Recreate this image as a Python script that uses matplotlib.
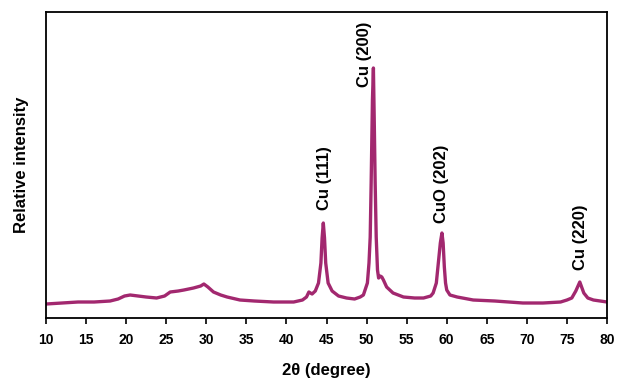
#!/usr/bin/env python3
import matplotlib
matplotlib.use("Agg")
import matplotlib.pyplot as plt

# values (arbitrary intensity units)
two_theta = [10, 12, 14, 16, 18, 19, 19.8, 20.5, 21.5, 22.5, 23.8, 24.8, 25.5,
             26.5, 27.2, 28.4, 29.3, 29.7, 30.2, 30.9, 31.8, 32.6, 34.2, 36,
             38.4, 40.9, 42, 42.5, 42.8, 43.2, 43.6, 44.0, 44.3, 44.45, 44.6,
             44.75, 44.9, 45.2, 45.7, 46.5, 47.5, 48.5, 49.2, 49.6, 50.1, 50.3,
             50.45, 50.57, 50.73, 50.85, 50.95, 51.07, 51.2, 51.36, 51.5, 51.7,
             51.9, 52.1, 52.5, 53.3, 54.6, 56, 57.1, 58.0, 58.3, 58.7, 58.9,
             59.2, 59.4, 59.55, 59.7, 59.85, 60.0, 60.4, 61.3, 63.3, 66, 69.5,
             72, 74.2, 75.0, 75.6, 76.1, 76.6, 77.1, 77.6, 78.3, 80]
intensity = [14, 15, 16, 16, 17, 19, 22, 23, 22, 21, 20, 22, 26,
             27, 28, 30, 32, 34, 31, 26, 23, 21, 18, 17,
             16, 16, 18, 21, 26, 24, 27, 35, 55, 80, 95,
             80, 55, 35, 27, 22, 20, 19, 21, 23, 35, 55,
             81, 135, 218, 250, 200, 135, 81, 48, 40, 42,
             41, 38, 31, 25, 21, 20, 20, 22, 25, 35, 51,
             75, 85, 75, 51, 35, 28, 23, 21, 18, 17, 15,
             15, 16, 18, 20, 27, 36, 25, 20, 18, 16]

peak_labels = ["Cu (111)", "Cu (200)", "CuO (202)", "Cu (220)"]
peak_pos = [44.8, 49.7, 59.4, 76.7]
label_base = [108, 231, 95, 48]

xticks = list(range(10, 81, 5))

plt.rcParams["font.family"] = ["Liberation Sans", "DejaVu Sans"]

fig = plt.figure(figsize=(6.29, 3.90), dpi=100)
ax = fig.add_axes([0.0731, 0.1846, 0.892, 0.7846])

ax.plot(two_theta, intensity, color="#A2286F", linewidth=2.4)

for text, x, y in zip(peak_labels, peak_pos, label_base):
    ax.text(x, y, text, rotation=90, ha="center", va="bottom",
            fontsize=12, fontweight="bold")

ax.set_xlim(10, 80)
ax.set_ylim(0, 306)
ax.set_xticks(xticks)
ax.set_yticks([])
ax.tick_params(axis="x", direction="out", length=4, width=1.2,
               labelsize=10, pad=7)
for lbl in ax.get_xticklabels():
    lbl.set_fontweight("bold")
for sp in ax.spines.values():
    sp.set_linewidth(1.3)

ax.set_xlabel("2θ (degree)", fontsize=12, fontweight="bold", labelpad=11)
ax.set_ylabel("Relative intensity", fontsize=12, fontweight="bold", labelpad=12)

fig.savefig("out.png", dpi=100)
plt.close(fig)
